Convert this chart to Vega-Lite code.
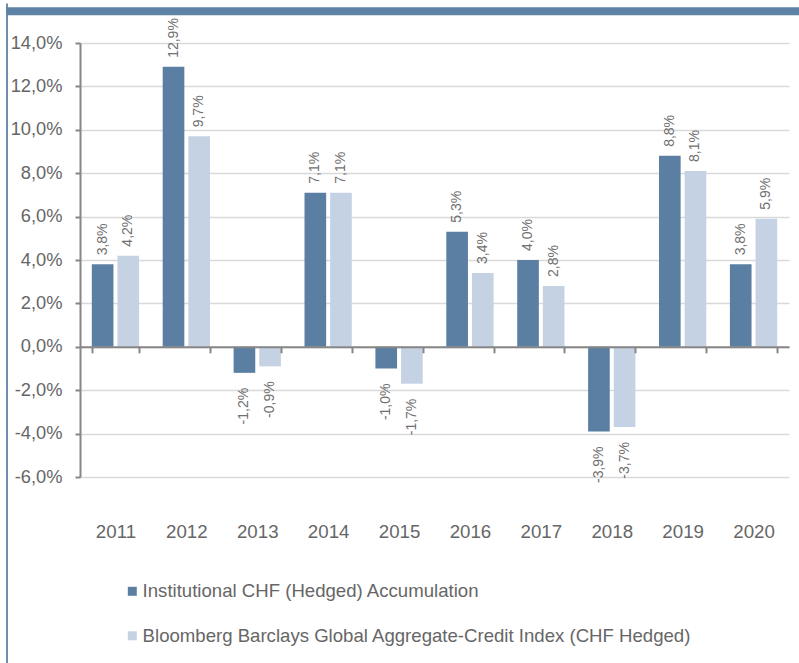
{
  "$schema": "https://vega.github.io/schema/vega-lite/v6.json",
  "width": 709,
  "height": 434,
  "autosize": {"type": "none"},
  "padding": {"left": 80, "top": 43, "right": 10, "bottom": 186},
  "background": "white",
  "config": {
    "locale": {"number": {"decimal": ",", "thousands": ".", "grouping": [3], "currency": ["", ""], "minus": "-"}},
    "view": {"stroke": null},
    "font": "Liberation Sans"
  },
  "datasets": {
    "returns": [
      {"year": "2011", "series": "Institutional CHF (Hedged) Accumulation", "value": 0.038},
      {"year": "2011", "series": "Bloomberg Barclays Global Aggregate-Credit Index (CHF Hedged)", "value": 0.042},
      {"year": "2012", "series": "Institutional CHF (Hedged) Accumulation", "value": 0.129},
      {"year": "2012", "series": "Bloomberg Barclays Global Aggregate-Credit Index (CHF Hedged)", "value": 0.097},
      {"year": "2013", "series": "Institutional CHF (Hedged) Accumulation", "value": -0.012},
      {"year": "2013", "series": "Bloomberg Barclays Global Aggregate-Credit Index (CHF Hedged)", "value": -0.009},
      {"year": "2014", "series": "Institutional CHF (Hedged) Accumulation", "value": 0.071},
      {"year": "2014", "series": "Bloomberg Barclays Global Aggregate-Credit Index (CHF Hedged)", "value": 0.071},
      {"year": "2015", "series": "Institutional CHF (Hedged) Accumulation", "value": -0.010},
      {"year": "2015", "series": "Bloomberg Barclays Global Aggregate-Credit Index (CHF Hedged)", "value": -0.017},
      {"year": "2016", "series": "Institutional CHF (Hedged) Accumulation", "value": 0.053},
      {"year": "2016", "series": "Bloomberg Barclays Global Aggregate-Credit Index (CHF Hedged)", "value": 0.034},
      {"year": "2017", "series": "Institutional CHF (Hedged) Accumulation", "value": 0.040},
      {"year": "2017", "series": "Bloomberg Barclays Global Aggregate-Credit Index (CHF Hedged)", "value": 0.028},
      {"year": "2018", "series": "Institutional CHF (Hedged) Accumulation", "value": -0.039},
      {"year": "2018", "series": "Bloomberg Barclays Global Aggregate-Credit Index (CHF Hedged)", "value": -0.037},
      {"year": "2019", "series": "Institutional CHF (Hedged) Accumulation", "value": 0.088},
      {"year": "2019", "series": "Bloomberg Barclays Global Aggregate-Credit Index (CHF Hedged)", "value": 0.081},
      {"year": "2020", "series": "Institutional CHF (Hedged) Accumulation", "value": 0.038},
      {"year": "2020", "series": "Bloomberg Barclays Global Aggregate-Credit Index (CHF Hedged)", "value": 0.059}
    ],
    "frame": [{"k": 0}]
  },
  "layer": [
    {
      "data": {"name": "returns"},
      "encoding": {
        "x": {
          "field": "year", "type": "nominal",
          "scale": {"paddingInner": 0.333, "paddingOuter": 0.1665},
          "axis": {
            "title": null, "orient": "bottom", "offset": -130.2, "zindex": 1,
            "domainColor": "#868686", "domainWidth": 2,
            "tickBand": "extent", "tickColor": "#868686", "tickWidth": 2, "tickSize": 6,
            "labelAngle": 0, "labelFontSize": 18.7, "labelColor": "#666666", "labelPadding": 170,
            "grid": false
          }
        },
        "xOffset": {
          "field": "series", "type": "nominal",
          "scale": {"domain": ["Institutional CHF (Hedged) Accumulation", "Bloomberg Barclays Global Aggregate-Credit Index (CHF Hedged)"], "paddingInner": 0.156}
        },
        "y": {
          "field": "value", "type": "quantitative",
          "scale": {"domain": [-0.06, 0.14], "nice": false, "zero": false},
          "axis": {
            "title": null, "format": ".1%",
            "values": [-0.06, -0.04, -0.02, 0, 0.02, 0.04, 0.06, 0.08, 0.1, 0.12, 0.14],
            "domainColor": "#868686", "domainWidth": 2,
            "tickColor": "#868686", "tickWidth": 2, "tickSize": 5,
            "labelFontSize": 18.3, "labelColor": "#666666", "labelPadding": 13,
            "grid": true, "gridColor": "#D9D9D9", "gridWidth": 1.5
          }
        }
      },
      "layer": [
        {
          "mark": {"type": "bar"},
          "encoding": {
            "color": {
              "field": "series", "type": "nominal",
              "scale": {
                "domain": ["Institutional CHF (Hedged) Accumulation", "Bloomberg Barclays Global Aggregate-Credit Index (CHF Hedged)"],
                "range": ["#5B7FA3", "#C5D2E3"]
              },
              "legend": {
                "title": null, "orient": "none", "legendX": 43, "legendY": 539,
                "direction": "vertical", "symbolType": "square", "symbolSize": 81,
                "symbolStrokeWidth": 0, "labelFontSize": 18.6, "labelColor": "#666666",
                "labelOffset": 1, "rowPadding": 25.5, "padding": 0, "labelLimit": 700
              }
            }
          }
        },
        {
          "transform": [{"filter": "datum.value >= 0"}],
          "mark": {"type": "text", "angle": 270, "align": "left", "baseline": "middle", "dx": 9, "fontSize": 14, "font": "Liberation Sans", "color": "#707070"},
          "encoding": {"text": {"field": "value", "type": "quantitative", "format": ".1%"}}
        },
        {
          "transform": [{"filter": "datum.value < 0"}],
          "mark": {"type": "text", "angle": 270, "align": "right", "baseline": "middle", "dx": -15, "fontSize": 14, "font": "Liberation Sans", "color": "#707070"},
          "encoding": {"text": {"field": "value", "type": "quantitative", "format": ".1%"}}
        }
      ]
    },
    {
      "data": {"name": "frame"},
      "mark": {"type": "point", "opacity": 0},
      "encoding": {
        "x": {
          "datum": 0.5, "type": "quantitative",
          "scale": {"domain": [0, 1], "range": [-74.3, 735], "nice": false, "zero": false},
          "axis": {"orient": "top", "offset": 32.2, "title": null, "labels": false, "ticks": false, "grid": false, "domainColor": "#5E83A7", "domainWidth": 8}
        },
        "y": {
          "datum": 0.5, "type": "quantitative",
          "scale": {"domain": [0, 1], "range": [630, -40], "nice": false, "zero": false},
          "axis": {"orient": "left", "offset": 73.5, "title": null, "labels": false, "ticks": false, "grid": false, "domainColor": "#5E83A7", "domainWidth": 1.8}
        }
      }
    }
  ],
  "resolve": {"scale": {"x": "independent", "y": "independent"}, "axis": {"x": "independent", "y": "independent"}}
}
